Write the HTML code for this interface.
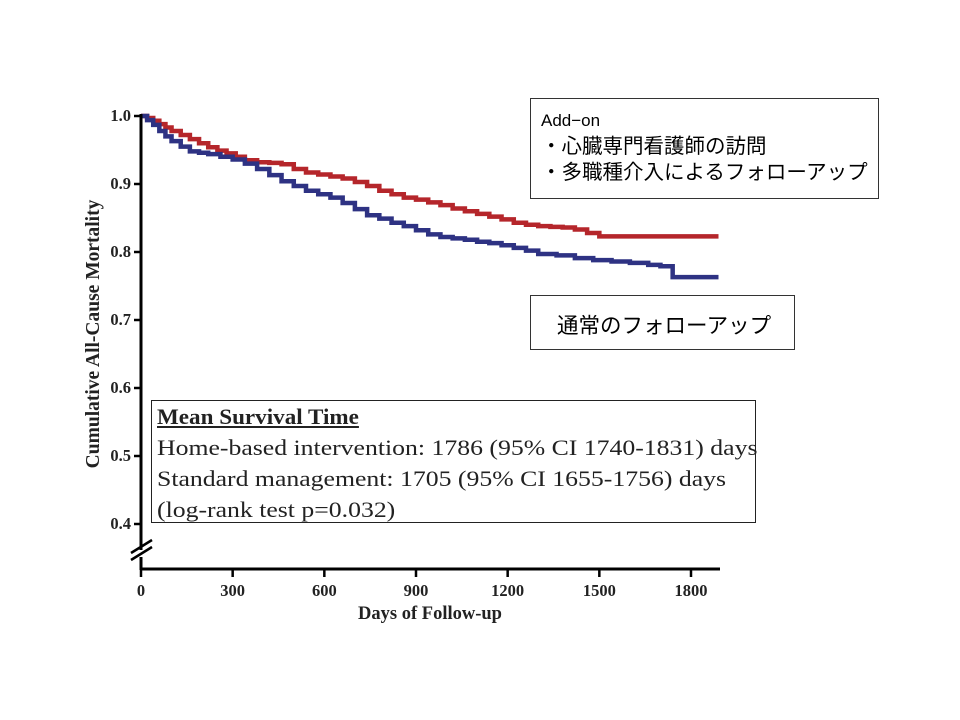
<!DOCTYPE html>
<html><head><meta charset="utf-8">
<style>
html,body{margin:0;padding:0;background:#fff;}
body{width:960px;height:720px;overflow:hidden;position:relative;}
.box{position:absolute;border:1px solid #333;background:#fff;box-sizing:border-box;}
.jp{font-family:"Liberation Sans","Noto Sans CJK JP",sans-serif;color:#000;}
.st{display:block;transform-origin:0 0;transform:scaleX(1.17);white-space:nowrap;}
</style></head><body>
<svg id="chart" width="960" height="720" style="position:absolute;left:0;top:0" font-family="Liberation Serif, serif"></svg>

<div class="box jp" style="left:530px;top:98px;width:349px;height:101px;padding:9px 0 0 10px;font-size:20.5px;line-height:26px;">
<div style="font-size:17px">Add−on</div>
<div>・心臓専門看護師の訪問</div>
<div>・多職種介入によるフォローアップ</div>
</div>
<div class="box jp" style="left:530px;top:295px;width:265px;height:55px;padding:13px 0 0 26px;font-size:21.5px;">通常のフォローアップ</div>

<div class="box" style="left:151px;top:400px;width:605px;height:123px;border:1.5px solid #222;font-family:'Liberation Serif',serif;font-size:22px;line-height:31px;padding:0 0 0 5px;color:#222;">
<div class="st" style="font-weight:bold;text-decoration:underline;transform:scaleX(1.05)">Mean Survival Time</div>
<div class="st">Home-based intervention: 1786 (95% CI 1740-1831) days</div>
<div class="st">Standard management: 1705 (95% CI 1655-1756) days</div>
<div class="st">(log-rank test p=0.032)</div>
</div>

<script>
const xTicks=[0,300,600,900,1200,1500,1800];
const yTicks=[0.4,0.5,0.6,0.7,0.8,0.9,1.0];
const homeDays=[0,20,40,60,80,100,130,160,190,220,250,280,310,340,380,420,460,500,540,580,620,660,700,740,780,820,860,900,940,980,1020,1060,1100,1140,1180,1220,1260,1300,1340,1380,1420,1460,1500,1890];
const homeVals=[1.0,0.997,0.993,0.988,0.983,0.978,0.972,0.966,0.96,0.954,0.949,0.945,0.94,0.935,0.932,0.931,0.929,0.922,0.917,0.914,0.911,0.908,0.903,0.897,0.89,0.885,0.88,0.877,0.873,0.869,0.864,0.86,0.856,0.852,0.848,0.843,0.84,0.838,0.837,0.836,0.833,0.828,0.823,0.823];
const stdDays=[0,20,40,60,80,100,130,160,190,220,260,300,340,380,420,460,500,540,580,620,660,700,740,780,820,860,900,940,980,1020,1060,1100,1140,1180,1220,1260,1300,1360,1420,1480,1540,1600,1660,1700,1740,1890];
const stdVals=[1.0,0.994,0.987,0.978,0.97,0.963,0.955,0.948,0.946,0.944,0.94,0.936,0.93,0.922,0.913,0.904,0.897,0.89,0.885,0.88,0.872,0.863,0.854,0.849,0.843,0.838,0.832,0.826,0.822,0.82,0.818,0.815,0.813,0.81,0.806,0.802,0.797,0.795,0.791,0.788,0.786,0.784,0.781,0.779,0.763,0.763];

const svg=document.getElementById('chart');
const NS='http://www.w3.org/2000/svg';
const x=d=>141+d*(550/1800);
const y=v=>116+(1-v)*680;
function mk(tag,attrs){const e=document.createElementNS(NS,tag);for(const k in attrs)e.setAttribute(k,attrs[k]);svg.appendChild(e);return e;}

function stepPath(ds,vs){let p='M'+x(ds[0])+','+y(vs[0]);for(let i=1;i<ds.length;i++){p+=' H'+x(ds[i])+' V'+y(vs[i]);}return p;}
const red=mk('path',{d:stepPath(homeDays,homeVals),fill:'none',stroke:'#b5262b','stroke-width':4.5});


const blue=mk('path',{d:stepPath(stdDays,stdVals),fill:'none',stroke:'#2e3283','stroke-width':4.5});



const yax=mk('path',{d:'M141,114 V550 M141,557 V570',stroke:'#000','stroke-width':3,fill:'none'});


const brk=mk('path',{d:'M131,553 L152,540 M131,560 L152,547',stroke:'#000','stroke-width':2.5});


const xax=mk('path',{d:'M141,569 H720',stroke:'#000','stroke-width':3});



xTicks.forEach(t=>{
  const tk=mk('line',{x1:x(t),x2:x(t),y1:569,y2:577,stroke:'#000','stroke-width':2.5});
  
  
  const lb=mk('text',{x:x(t),y:596,'text-anchor':'middle','font-size':16.5,'font-weight':'bold',fill:'#222'});
  lb.textContent=t;
  
  
});
yTicks.forEach(t=>{
  const tk=mk('line',{x1:134,x2:141,y1:y(t),y2:y(t),stroke:'#000','stroke-width':2.5});
  
  
  const lb=mk('text',{x:131,y:y(t)+5,'text-anchor':'end','font-size':16.5,'font-weight':'bold',fill:'#222'});
  lb.textContent=t.toFixed(1);
  
  
});
const xt=mk('text',{x:430,y:619,'text-anchor':'middle','font-size':18.5,'font-weight':'bold',fill:'#222'});
xt.textContent='Days of Follow-up';


const yt=mk('text',{x:0,y:0,'text-anchor':'middle','font-size':19.5,'font-weight':'bold',fill:'#222',transform:'translate(99,334) rotate(-90)'});
yt.textContent='Cumulative All-Cause Mortality';


</script>
</body></html>
